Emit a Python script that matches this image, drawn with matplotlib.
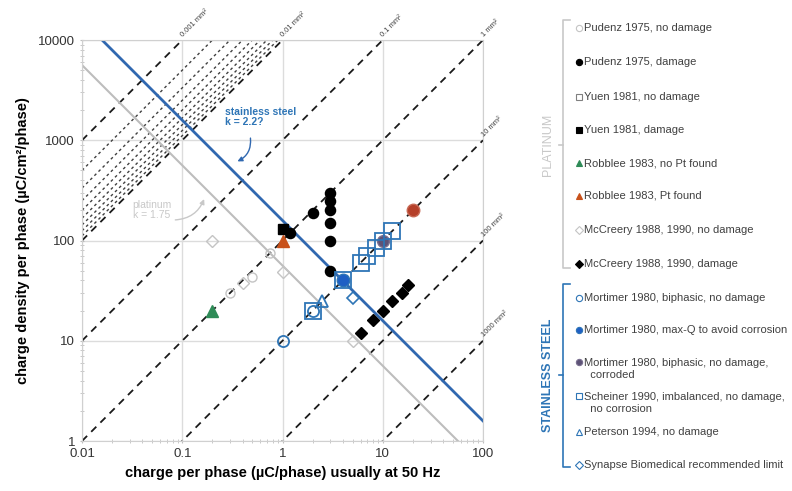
import matplotlib
matplotlib.use("Agg")
import numpy as np
import matplotlib.pyplot as plt

plt.rcParams['font.family'] = ['Liberation Sans', 'DejaVu Sans']

# electrode areas (mm²) for the iso-area guide lines
areas = [0.001, 0.01, 0.1, 1, 10, 100, 1000]
area_labels = ['0.001 mm²', '0.01 mm²', '0.1 mm²', '1 mm²', '10 mm²', '100 mm²', '1000 mm²']
fine_areas = [0.002, 0.003, 0.004, 0.005, 0.006, 0.007, 0.008, 0.009]

# Shannon limit k values
k_platinum = 1.75
k_steel = 2.2

# charge per phase (uC/phase) and charge density (uC/cm2/phase)
pudenz_nd_q = [0.3, 0.5, 0.75]
pudenz_nd_d = [30, 43, 75]
pudenz_dmg_q = [3, 3, 3, 3, 3, 3, 2, 1.2]
pudenz_dmg_d = [300, 250, 200, 150, 100, 50, 190, 120]
yuen_nd_q = []
yuen_nd_d = []
yuen_dmg_q = [1]
yuen_dmg_d = [130]
robblee_nopt_q = [0.2]
robblee_nopt_d = [20]
robblee_pt_q = [1]
robblee_pt_d = [100]
mccreery_nd_q = [0.2, 0.4, 1, 5]
mccreery_nd_d = [100, 38, 48, 10]
mccreery_dmg_q = [6, 8, 10, 12.5, 15.5, 18]
mccreery_dmg_d = [12, 16, 20, 25, 30, 36]

mortimer_bi_q = [1, 2]
mortimer_bi_d = [10, 20]
mortimer_maxq_q = [4]
mortimer_maxq_d = [40]
mortimer_corr_q = [10]
mortimer_corr_d = [100]
corr_red_q = [20]
corr_red_d = [200]
scheiner_q = [2, 4, 6, 7, 8.5, 10, 12.5]
scheiner_d = [20, 40, 60, 70, 85, 100, 125]
peterson_q = [2.5]
peterson_d = [25]
synapse_q = [5]
synapse_d = [27]

gray = '#c4c4c4'
steel = '#2e75b6'
steel_line = '#3068b0'

styles = {
    'pudenz_nd': dict(marker='o', ms=6.5, mfc='none', mec=gray, mew=1),
    'pudenz_dmg': dict(marker='o', ms=7.3, mfc='black', mec='black'),
    'yuen_nd': dict(marker='s', ms=7, mfc='white', mec='#808080', mew=1),
    'yuen_dmg': dict(marker='s', ms=7.5, mfc='black', mec='black'),
    'robblee_nopt': dict(marker='^', ms=8, mfc='#2e8b57', mec='#2e8b57'),
    'robblee_pt': dict(marker='^', ms=8, mfc='#c8511b', mec='#c8511b'),
    'mccreery_nd': dict(marker='D', ms=6.5, mfc='none', mec=gray, mew=1),
    'mccreery_dmg': dict(marker='D', ms=6.3, mfc='black', mec='black'),
    'mortimer_bi': dict(marker='o', ms=8, mfc='none', mec=steel, mew=1.3),
    'mortimer_maxq': dict(marker='o', ms=9, mfc='#1f5fc4', mec=steel),
    'mortimer_corr': dict(marker='o', ms=8.5, mfc='#5d5277', mec='#7a7090'),
    'corr_red': dict(marker='o', ms=9, mfc='#b5402a', mec='#c86a55'),
    'scheiner': dict(marker='s', ms=12, mfc='none', mec=steel, mew=1.3),
    'peterson': dict(marker='^', ms=8, mfc='none', mec=steel, mew=1.3),
    'synapse': dict(marker='D', ms=6.5, mfc='white', mec=steel, mew=1.2),
}

fig = plt.figure(figsize=(7.92, 4.91), dpi=100)
ax = fig.add_axes([82 / 792, 1 - 441 / 491, 401 / 792, 401 / 491])
ax.set_xscale('log')
ax.set_yscale('log')
ax.set_xlim(0.01, 100)
ax.set_ylim(1, 10000)

q = np.logspace(-2, 2, 400)

# fine hatching between 0.001 and 0.01 mm²
for a in fine_areas:
    ax.plot(q, 100 * q / a, color='#404040', lw=1.0, ls=(0, (2, 2.2)), zorder=2)

# iso-area lines
for a, lab in zip(areas, area_labels):
    ax.plot(q, 100 * q / a, color='#1a1a1a', lw=1.3, ls=(0, (4, 3.2)), zorder=2)
    if a <= 1:
        end = (100 * a, 10000)
    else:
        end = (100, 10000 / a)
    ax.annotate(lab, xy=end, xytext=(1.5, 1.5), textcoords='offset points',
                rotation=45, rotation_mode='anchor', fontsize=5.5, color='#404040',
                ha='left', va='bottom', annotation_clip=False)

# Shannon limits
ax.plot(q, 10 ** k_platinum / q, color='#bdbdbd', lw=1.5, zorder=2)
ax.plot(q, 10 ** k_steel / q, color=steel_line, lw=2.0, zorder=2)

ax.text(0.05, 200, 'platinum\nk = 1.75', color='#c8c8c8', fontsize=7.5,
        ha='center', va='center', linespacing=1.0)
ax.annotate('', xy=(0.169, 275), xytext=(0.08, 160),
            arrowprops=dict(arrowstyle='-|>', color='#c8c8c8', lw=1,
                            connectionstyle='arc3,rad=0.35', mutation_scale=7))
ax.text(0.265, 1700, 'stainless steel\nk = 2.2?', color=steel, fontsize=7.5,
        fontweight='bold', ha='left', va='center', linespacing=1.0)
ax.annotate('', xy=(0.335, 600), xytext=(0.475, 1120),
            arrowprops=dict(arrowstyle='-|>', color=steel_line, lw=1,
                            connectionstyle='arc3,rad=-0.4', mutation_scale=7))

data = [
    ('pudenz_nd', pudenz_nd_q, pudenz_nd_d),
    ('mccreery_nd', mccreery_nd_q, mccreery_nd_d),
    ('pudenz_dmg', pudenz_dmg_q, pudenz_dmg_d),
    ('yuen_nd', yuen_nd_q, yuen_nd_d),
    ('yuen_dmg', yuen_dmg_q, yuen_dmg_d),
    ('robblee_nopt', robblee_nopt_q, robblee_nopt_d),
    ('robblee_pt', robblee_pt_q, robblee_pt_d),
    ('mccreery_dmg', mccreery_dmg_q, mccreery_dmg_d),
    ('mortimer_maxq', mortimer_maxq_q, mortimer_maxq_d),
    ('mortimer_corr', mortimer_corr_q, mortimer_corr_d),
    ('corr_red', corr_red_q, corr_red_d),
    ('scheiner', scheiner_q, scheiner_d),
    ('mortimer_bi', mortimer_bi_q, mortimer_bi_d),
    ('peterson', peterson_q, peterson_d),
    ('synapse', synapse_q, synapse_d),
]
for key, xs, ys in data:
    ax.plot(xs, ys, ls='none', zorder=3, **styles[key])

ax.set_xticks([0.01, 0.1, 1, 10, 100])
ax.set_xticklabels(['0.01', '0.1', '1', '10', '100'])
ax.set_yticks([1, 10, 100, 1000, 10000])
ax.set_yticklabels(['1', '10', '100', '1000', '10000'])
ax.tick_params(which='major', length=3, color='#bfbfbf', labelsize=9.5,
               labelcolor='#333333', direction='inout')
ax.tick_params(which='minor', length=3, color='#bfbfbf', direction='inout')
ax.grid(which='major', color='#dcdcdc', lw=1, zorder=0)
for s in ax.spines.values():
    s.set_color('#d0d0d0')

ax.set_xlabel('charge per phase (µC/phase) usually at 50 Hz', fontsize=10.5,
              fontweight='bold', labelpad=4)
ax.set_ylabel('charge density per phase (µC/cm²/phase)', fontsize=10.5,
              fontweight='bold', labelpad=6)

# legend panel in pixel coordinates
lg = fig.add_axes([0, 0, 1, 1], zorder=5)
lg.set_xlim(0, 792)
lg.set_ylim(491, 0)
lg.axis('off')
lg.patch.set_alpha(0)

entries = [
    ('pudenz_nd', 'Pudenz 1975, no damage', 28),
    ('pudenz_dmg', 'Pudenz 1975, damage', 62),
    ('yuen_nd', 'Yuen 1981, no damage', 97),
    ('yuen_dmg', 'Yuen 1981, damage', 130),
    ('robblee_nopt', 'Robblee 1983, no Pt found', 163),
    ('robblee_pt', 'Robblee 1983, Pt found', 196),
    ('mccreery_nd', 'McCreery 1988, 1990, no damage', 230),
    ('mccreery_dmg', 'McCreery 1988, 1990, damage', 264),
    ('mortimer_bi', 'Mortimer 1980, biphasic, no damage', 298),
    ('mortimer_maxq', 'Mortimer 1980, max-Q to avoid corrosion', 330),
    ('mortimer_corr', 'Mortimer 1980, biphasic, no damage,\n  corroded', 369),
    ('scheiner', 'Scheiner 1990, imbalanced, no damage,\n  no corrosion', 403),
    ('peterson', 'Peterson 1994, no damage', 432),
    ('synapse', 'Synapse Biomedical recommended limit', 465),
]
for key, text, y in entries:
    st = dict(styles[key])
    st['ms'] = 4.5
    st['mew'] = 0.8
    first_y = y - 7 if '\n' in text else y
    lg.plot([579], [first_y], ls='none', **st)
    lg.text(584, y, text, fontsize=8, color='#404040', ha='left', va='center',
            linespacing=1.25)

# group brackets
lg.plot([570, 563, 563, 570], [20, 20, 268, 268], color='#c8c8c8', lw=1.2)
lg.plot([563, 559], [145, 145], color='#c8c8c8', lw=1.2)
lg.text(548, 145, 'PLATINUM', rotation=90, color='#c8c8c8', fontsize=9,
        ha='center', va='center')
lg.plot([570, 563, 563, 570], [284, 284, 467, 467], color=steel, lw=1.2)
lg.plot([563, 559], [375, 375], color=steel, lw=1.2)
lg.text(548, 375, 'STAINLESS STEEL', rotation=90, color=steel, fontsize=9,
        fontweight='bold', ha='center', va='center')

fig.savefig('out.png', dpi=100)
